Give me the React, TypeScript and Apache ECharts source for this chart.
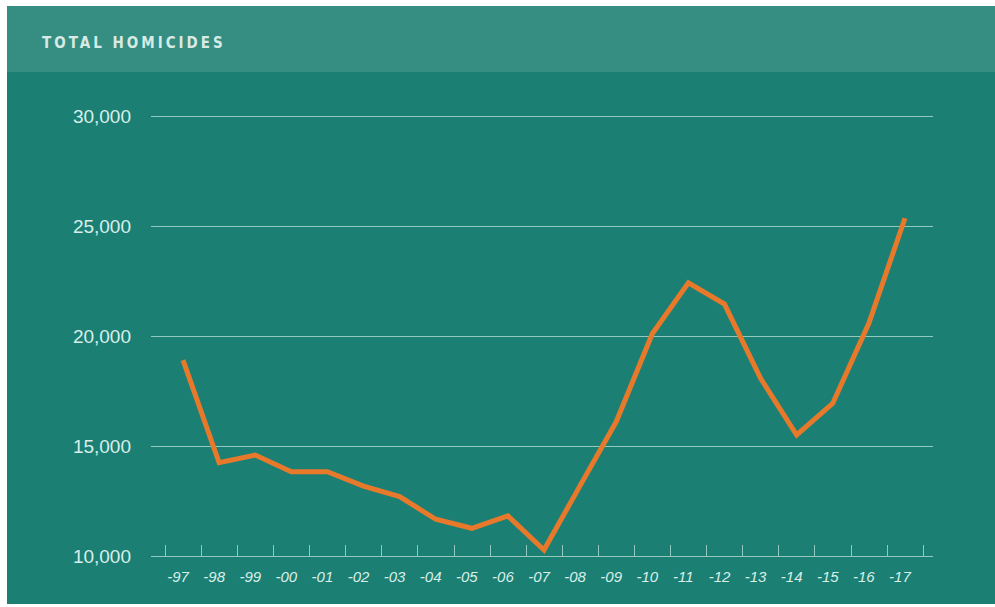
import React, { useEffect, useRef } from "react";
import * as echarts from "echarts";

// Annual homicide totals, 1997–2017
const years = ["-97", "-98", "-99", "-00", "-01", "-02", "-03", "-04", "-05", "-06", "-07", "-08", "-09", "-10", "-11", "-12", "-13", "-14", "-15", "-16", "-17"];
const homicides = [18900, 14240, 14590, 13830, 13830, 13180, 12700, 11670, 11260, 11820, 10270, 13200, 16100, 20100, 22420, 21450, 18080, 15500, 16940, 20580, 25350];
const yTicks = { min: 10000, max: 30000, step: 5000 };
const title = "TOTAL HOMICIDES";

const W = 995;
const H = 607;
const GRID_LINE = "#93cac0";
const LABEL = "#d9eeea";

export default function App() {
  const ref = useRef<HTMLDivElement>(null);

  useEffect(() => {
    if (!ref.current) return;
    const chart = echarts.init(ref.current, null, { renderer: "svg", width: W, height: H });
    chart.setOption({
      animation: false,
      backgroundColor: "#ffffff",
      graphic: [
        { type: "rect", left: 7, top: 6, shape: { width: 988, height: 598 }, style: { fill: "#1b8073" }, z: -10 },
        { type: "rect", left: 7, top: 6, shape: { width: 988, height: 66 }, style: { fill: "#368d81" }, z: -9 },
        {
          type: "text",
          id: "title",
          x: 42,
          y: 43,
          style: {
            text: title,
            fill: "#d6ebe6",
            font: "bold 15px 'DejaVu Sans Condensed', 'Liberation Sans Narrow', sans-serif",
            verticalAlign: "middle",
            align: "left",
          },
          z: 10,
        },
      ],
      grid: [
        { left: 151, right: W - 933, top: 116, bottom: H - 556 },
        { left: 165, right: W - 923, top: 116, bottom: H - 556 },
      ],
      xAxis: [
        { gridIndex: 0, type: "value", min: 0, max: 1, show: false },
        {
          gridIndex: 1,
          type: "category",
          data: years,
          boundaryGap: true,
          axisLine: { show: false },
          axisTick: { show: true, inside: true, length: 11, lineStyle: { color: GRID_LINE, width: 1 } },
          axisLabel: {
            color: LABEL,
            fontSize: 15,
            fontStyle: "italic",
            fontFamily: "'Liberation Sans', Arial, sans-serif",
            margin: 13,
            padding: [0, 10, 0, 0],
          },
          splitLine: { show: false },
        },
      ],
      yAxis: [
        {
          gridIndex: 0,
          type: "value",
          min: yTicks.min,
          max: yTicks.max,
          interval: yTicks.step,
          axisLine: { show: false },
          axisTick: { show: false },
          splitLine: { show: true, lineStyle: { color: GRID_LINE, width: 1.2 } },
          axisLabel: {
            color: LABEL,
            fontSize: 19,
            fontFamily: "'Liberation Sans', Arial, sans-serif",
            margin: 20,
            formatter: (v: number) => v.toLocaleString("en-US"),
          },
        },
        {
          gridIndex: 1,
          type: "value",
          min: yTicks.min,
          max: yTicks.max,
          show: false,
        },
      ],
      series: [
        {
          type: "line",
          xAxisIndex: 1,
          yAxisIndex: 1,
          data: homicides,
          symbol: "none",
          lineStyle: { color: "#e8792b", width: 5, join: "miter" },
          z: 5,
        },
      ],
    });

    // widen the tracking of the header title
    const svgTexts = ref.current.querySelectorAll("text");
    svgTexts.forEach((t) => {
      if (t.textContent === title) t.setAttribute("letter-spacing", "3");
    });

    return () => chart.dispose();
  }, []);

  return <div ref={ref} style={{ position: "absolute", left: 0, top: 0, width: W, height: H }} />;
}
